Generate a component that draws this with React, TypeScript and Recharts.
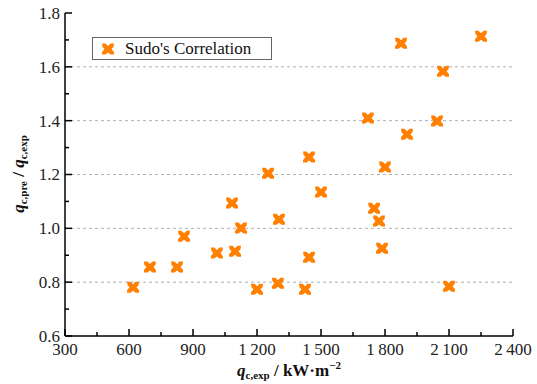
import React from "react";
import {
  ScatterChart,
  Scatter,
  XAxis,
  YAxis,
  ReferenceLine
} from "recharts";

// q_c,exp (kW/m2) and q_c,pre / q_c,exp
const QEXP = [
  619, 698, 825, 858, 1012, 1097, 1083, 1125, 1200, 1298, 1252, 1303, 1425, 1444,
  1500, 1444, 1875, 2250, 2072, 1720, 2044, 1903, 1800, 1749, 1772, 1786, 2100
];
const RATIO = [
  0.781, 0.856, 0.856, 0.971, 0.908, 0.915, 1.094, 1.001, 0.774, 0.796, 1.205, 1.034, 0.774, 0.893,
  1.135, 1.265, 1.688, 1.714, 1.584, 1.41, 1.399, 1.35, 1.228, 1.075, 1.027, 0.926, 0.785
];

const X_TICKS = [300, 450, 600, 750, 900, 1050, 1200, 1350, 1500, 1650, 1800, 1950, 2100, 2250, 2400];
const Y_TICKS = [0.6, 0.7, 0.8, 0.9, 1.0, 1.1, 1.2, 1.3, 1.4, 1.5, 1.6, 1.7, 1.8];
const GRID_Y = [0.8, 1.0, 1.2, 1.4, 1.6];

const data = QEXP.map((x, i) => ({ x, y: RATIO[i] }));

const ORANGE = "#FF7F00";
const FONT = "Liberation Serif, Tinos, Times New Roman, DejaVu Serif, serif";

const fmtX = (v: number) =>
  v >= 1000 ? `${Math.floor(v / 1000)}\u2009${String(v % 1000).padStart(3, "0")}` : String(v);

const isMajorX = (v: number) => Math.round(v) % 300 === 0;
const isMajorY = (v: number) => Math.round(v * 10) % 2 === 0;

function Marker({ cx, cy }: any) {
  const p = [
    [-6, -5.5], [-2.5, -5.5], [0, -3], [2.5, -5.5], [6, -5.5], [5.5, -2], [3.5, 0], [6, 3],
    [6, 5.5], [2.5, 5.5], [0, 3.5], [-2.5, 5.5], [-6, 5.5], [-6, 3], [-3.5, 0], [-5.5, -2]
  ];
  return (
    <polygon
      points={p.map(([a, b]) => `${cx + a},${cy + b}`).join(" ")}
      fill={ORANGE}
    />
  );
}

function BottomTick({ x, y, payload }: any) {
  const major = isMajorX(payload.value);
  return (
    <g>
      <line x1={x} x2={x} y1={y} y2={y - (major ? 7 : 4)} stroke="#000" strokeWidth={1.5} />
      {major && (
        <text x={x} y={y + 19} textAnchor="middle" fontSize={17} fontFamily={FONT} fill="#222">
          {fmtX(payload.value)}
        </text>
      )}
    </g>
  );
}

function TopTick({ x, y, payload }: any) {
  const major = isMajorX(payload.value);
  return <line x1={x} x2={x} y1={y} y2={y + (major ? 7 : 4)} stroke="#000" strokeWidth={1.5} />;
}

function LeftTick({ x, y, payload }: any) {
  const major = isMajorY(payload.value);
  return (
    <g>
      <line x1={x} x2={x + (major ? 7 : 4)} y1={y} y2={y} stroke="#000" strokeWidth={1.5} />
      {major && (
        <text x={x - 5} y={y} dy="0.35em" textAnchor="end" fontSize={17} fontFamily={FONT} fill="#222">
          {payload.value.toFixed(1)}
        </text>
      )}
    </g>
  );
}

function RightTick({ x, y, payload }: any) {
  const major = isMajorY(payload.value);
  return <line x1={x} x2={x - (major ? 7 : 4)} y1={y} y2={y} stroke="#000" strokeWidth={1.5} />;
}

const subStyle: React.CSSProperties = { fontSize: 11, verticalAlign: "-3px" };

export default function App() {
  return (
    <div style={{ position: "absolute", left: 0, top: 0, width: 537, height: 384, background: "#fff", fontFamily: FONT }}>
      <ScatterChart width={537} height={384} margin={{ top: 13, right: 24, bottom: 0, left: 0 }}>
        <XAxis
          xAxisId="b"
          dataKey="x"
          type="number"
          domain={[300, 2400]}
          ticks={X_TICKS}
          interval={0}
          height={48}
          tickSize={0}
          tickMargin={0}
          tick={<BottomTick />}
          axisLine={{ stroke: "#000", strokeWidth: 1.5 }}
          allowDataOverflow
        />
        <XAxis
          xAxisId="t"
          orientation="top"
          type="number"
          domain={[300, 2400]}
          ticks={X_TICKS}
          interval={0}
          height={0}
          tickSize={0}
          tickMargin={0}
          tick={<TopTick />}
          axisLine={{ stroke: "#000", strokeWidth: 1.5 }}
          allowDataOverflow
        />
        <YAxis
          yAxisId="l"
          dataKey="y"
          type="number"
          domain={[0.6, 1.8]}
          ticks={Y_TICKS}
          interval={0}
          width={65}
          tickSize={0}
          tickMargin={0}
          tick={<LeftTick />}
          axisLine={{ stroke: "#000", strokeWidth: 1.5 }}
          allowDataOverflow
        />
        <YAxis
          yAxisId="r"
          orientation="right"
          type="number"
          domain={[0.6, 1.8]}
          ticks={Y_TICKS}
          interval={0}
          width={0}
          tickSize={0}
          tickMargin={0}
          tick={<RightTick />}
          axisLine={{ stroke: "#000", strokeWidth: 1.5 }}
          allowDataOverflow
        />
        {GRID_Y.map(v => (
          <ReferenceLine
            key={v}
            xAxisId="b"
            yAxisId="l"
            y={v}
            stroke="#b0b0b0"
            strokeDasharray="3 3"
            strokeWidth={1}
          />
        ))}
        <Scatter
          xAxisId="b"
          yAxisId="l"
          data={data}
          shape={<Marker />}
          isAnimationActive={false}
        />
      </ScatterChart>

      <div
        style={{
          position: "absolute",
          left: 92,
          top: 37,
          width: 178,
          height: 21,
          border: "1px solid #666",
          background: "#fff",
          display: "flex",
          alignItems: "center",
          fontSize: 17,
          color: "#111"
        }}
      >
        <svg width={28} height={20} style={{ marginLeft: 2 }}>
          <Marker cx={13} cy={10} />
        </svg>
        <span style={{ marginLeft: 2 }}>Sudo's Correlation</span>
      </div>

      <div
        style={{
          position: "absolute",
          left: 289,
          top: 370,
          transform: "translate(-50%, -50%)",
          whiteSpace: "nowrap",
          fontWeight: "bold",
          fontSize: 17,
          color: "#111"
        }}
      >
        <i>q</i>
        <span style={subStyle}>c,exp</span> / kW·m<sup style={{ fontSize: 11 }}>−2</sup>
      </div>

      <div
        style={{
          position: "absolute",
          left: 19,
          top: 174,
          transform: "translate(-50%, -50%) rotate(-90deg)",
          whiteSpace: "nowrap",
          fontWeight: "bold",
          fontSize: 17,
          color: "#111"
        }}
      >
        <i>q</i>
        <span style={subStyle}>c,pre</span> / <i>q</i>
        <span style={subStyle}>c,exp</span>
      </div>
    </div>
  );
}
